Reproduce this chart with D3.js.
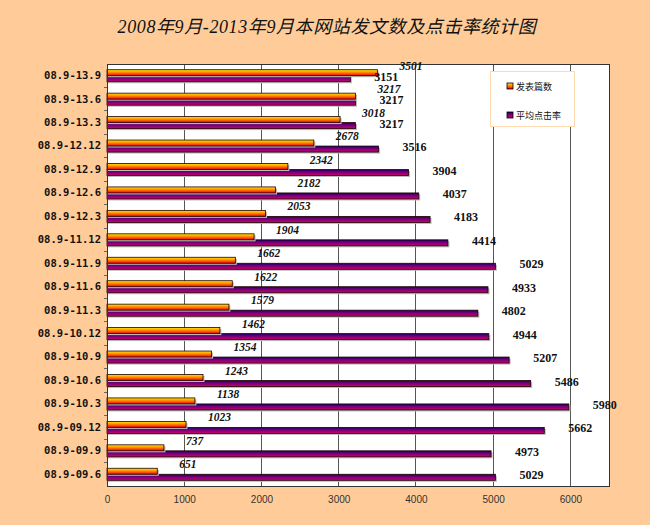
<!DOCTYPE html>
<html><head><meta charset="utf-8">
<script src="https://cdn.jsdelivr.net/npm/d3@7"></script>
<style>html,body{margin:0;padding:0;background:#FFCC99;}svg{display:block;}</style>
</head><body>
<script>
const categories = ["08.9-13.9","08.9-13.6","08.9-13.3","08.9-12.12","08.9-12.9","08.9-12.6","08.9-12.3","08.9-11.12","08.9-11.9","08.9-11.6","08.9-11.3","08.9-10.12","08.9-10.9","08.9-10.6","08.9-10.3","08.9-09.12","08.9-09.9","08.9-09.6"];
const articles = [3501,3217,3018,2678,2342,2182,2053,1904,1662,1622,1579,1462,1354,1243,1138,1023,737,651];
const clicks = [3151,3217,3217,3516,3904,4037,4183,4414,5029,4933,4802,4944,5207,5486,5980,5662,4973,5029];
const seriesNames = ["发表篇数","平均点击率"];
const xTicks = [0,1000,2000,3000,4000,5000,6000];
const title = "2008年9月-2013年9月本网站发文数及点击率统计图";

const W = 650, H = 525;
const svg = d3.select("body").append("svg").attr("width", W).attr("height", H);
svg.append("rect").attr("width", W).attr("height", H).attr("fill", "#FFCC99");

const defs = svg.append("defs");
const g1 = defs.append("linearGradient").attr("id","gOr").attr("x1",0).attr("y1",0).attr("x2",0).attr("y2",1);
[["0%","#FFE600"],["35%","#FFA200"],["70%","#FF4A00"],["100%","#D80000"]].forEach(s=>g1.append("stop").attr("offset",s[0]).attr("stop-color",s[1]));
const g2 = defs.append("linearGradient").attr("id","gPu").attr("x1",0).attr("y1",0).attr("x2",0).attr("y2",1);
[["0%","#1A0060"],["40%","#70007A"],["100%","#D0006A"]].forEach(s=>g2.append("stop").attr("offset",s[0]).attr("stop-color",s[1]));

const pL = 107, pR = 609, pT = 64, pB = 486;
const x = d3.scaleLinear().domain([0, 6500]).range([pL, pR]);
const y = d3.scaleBand().domain(categories).range([pT, pB]);
const sub = d3.scaleBand().domain(seriesNames).range([0, y.bandwidth()]).paddingOuter(0.95);

svg.append("rect").attr("x", pL).attr("y", pT).attr("width", pR-pL).attr("height", pB-pT).attr("fill", "#fff");

svg.append("g").selectAll("line").data(xTicks.filter(d=>d>0)).join("line")
  .attr("x1", d=>x(d)).attr("x2", d=>x(d)).attr("y1", pT).attr("y2", pB)
  .attr("stroke", "#555").attr("stroke-width", 1).attr("shape-rendering","crispEdges");

const xa = svg.append("g").attr("transform", `translate(0,${pB})`)
  .call(d3.axisBottom(x).tickValues(xTicks).tickFormat(d3.format("d")).tickSize(0).tickPadding(10));
xa.select(".domain").remove();
xa.selectAll("text").attr("font-family","Liberation Sans, Arial, sans-serif").attr("font-size",10).attr("fill","#333");

const ya = svg.append("g").attr("transform", `translate(${pL},0)`)
  .call(d3.axisLeft(y).tickSize(0).tickPadding(6));
ya.select(".domain").remove();
ya.selectAll("text").attr("font-family","DejaVu Sans Mono, monospace").attr("font-weight","bold").attr("font-size",10.5).attr("fill","#111");
svg.append("g").selectAll("line").data(categories.slice(1)).join("line")
  .attr("x1", pL-3).attr("x2", pL).attr("y1", d=>y(d)).attr("y2", d=>y(d))
  .attr("stroke","#666").attr("shape-rendering","crispEdges");

const rows = categories.map((c,i)=>({c, a: articles[i], k: clicks[i]}));
const bg = svg.append("g");
function drawBars(key, sname, fill){
  bg.append("g").selectAll("rect").data(rows).join("rect")
    .attr("x", x(0)).attr("y", d=>y(d.c)+sub(sname)+1.5)
    .attr("width", d=>x(d[key])-x(0)+1.5).attr("height", sub.bandwidth())
    .attr("fill","#bbb");
  bg.append("g").selectAll("rect").data(rows).join("rect")
    .attr("x", x(0)).attr("y", d=>y(d.c)+sub(sname))
    .attr("width", d=>x(d[key])-x(0)).attr("height", sub.bandwidth())
    .attr("fill", fill).attr("stroke","#200000").attr("stroke-width",0.8);
}
drawBars("k", seriesNames[1], "url(#gPu)");
drawBars("a", seriesNames[0], "url(#gOr)");

svg.append("rect").attr("x", pL).attr("y", pT).attr("width", pR-pL).attr("height", pB-pT)
  .attr("fill","none").attr("stroke","#333").attr("shape-rendering","crispEdges");

svg.append("g").selectAll("text").data(rows).join("text")
  .attr("x", d=>x(d.a)+22).attr("y", d=>y(d.c)+y.bandwidth()/2-6)
  .attr("font-family","Liberation Serif, serif").attr("font-style","italic").attr("font-weight","bold")
  .attr("font-size",11.5).attr("fill","#111").text(d=>d.a);
svg.append("g").selectAll("text").data(rows).join("text")
  .attr("x", d=>x(d.k)+24).attr("y", d=>y(d.c)+y.bandwidth()/2+5)
  .attr("font-family","Liberation Serif, serif").attr("font-weight","bold")
  .attr("font-size",12).attr("fill","#111").text(d=>d.k);

const lg = svg.append("g");
lg.append("rect").attr("x",490.5).attr("y",71.5).attr("width",84).attr("height",55)
  .attr("fill","#fff").attr("stroke","#FFD9B0");
const lItems = lg.selectAll("g").data(seriesNames).join("g")
  .attr("transform",(d,i)=>`translate(507,${83 + i*29})`);
lItems.append("rect").attr("width",6).attr("height",6)
  .attr("fill",(d,i)=>i===0?"url(#gOr)":"url(#gPu)").attr("stroke","#000").attr("stroke-width",0.8);
lItems.append("text").attr("x",9).attr("y",6.5)
  .attr("font-family","Noto Sans CJK SC, sans-serif").attr("font-size",9).attr("fill","#111").text(d=>d);

svg.append("text").attr("x", 327).attr("y", 33).attr("text-anchor","middle")
  .attr("font-family","Liberation Serif, Noto Sans CJK SC, serif").attr("font-style","italic")
  .attr("font-size",18).attr("letter-spacing",0.6).attr("fill","#111").text(title);
</script>
</body></html>
